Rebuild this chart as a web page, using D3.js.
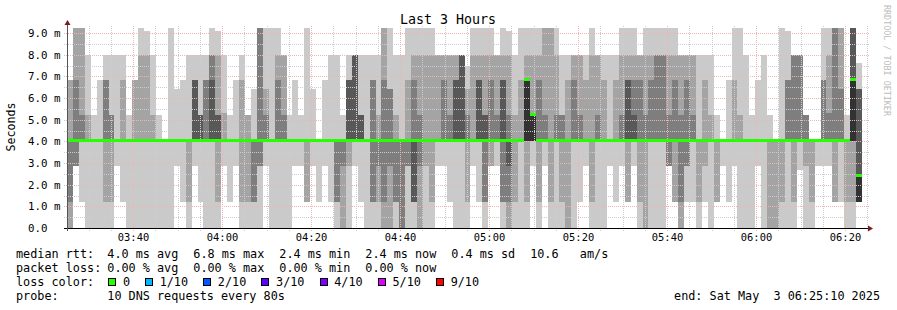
<!DOCTYPE html>
<html>
<head>
<meta charset="UTF-8">
<title>Last 3 Hours</title>
<script src="https://d3js.org/d3.v7.min.js"></script>
<style>
  body { margin: 0; background: #fff; }
  svg text { font-family: "DejaVu Sans Mono", monospace; white-space: pre; }
</style>
</head>
<body>
<svg id="chart" width="897" height="310"></svg>
<script>
// time window of the graph, one sample every 80s
var startTime = new Date(2025, 4, 3, 3, 25, 10);
var endTime = new Date(2025, 4, 3, 6, 25, 10);
var stepSec = 80;

// 10 sorted DNS rtts (ms) per step
var pings = [
  [0,0,1.2,4,4,4,4,4,6.85,6.85],
  [2.85,2.85,2.85,4,4,4,4,6.85,9.24,9.24],
  [1.2,4,4,4,4,4,4,5.2,9.24,9.24],
  [0,4,4,4,4,4,4,4,5.2,8],
  [0,4,4,4,4,4,4,4,4,5.2],
  [0,4,4,4,4,4,4,4,4,6.85],
  [0,1.2,4,4,4,4,4,6.85,6.85,8],
  [0,1.2,4,4,4,4,4,5.2,5.2,8],
  [2.85,4,4,4,4,4,4,4,4,8],
  [1.2,4,4,4,4,4,4,4,6.85,8],
  [0,4,4,4,4,4,4,4,4,5.2],
  [0,4,4,4,4,4,4,4,6.85,6.85],
  [0,4,4,4,4,4,4,4,8,9.24],
  [0,4,4,4,4,4,4,4,8,9.1],
  [0,4,4,4,4,4,4,4,5.2,8],
  [0,4,4,4,4,4,4,4,4,5.2],
  [0,4,4,4,4,4,4,4,4,4],
  [0,4,4,4,4,4,4,4,4,9.24],
  [2.85,4,4,4,4,4,4,4,4,6.4],
  [1.2,4,4,4,4,4,4,4,4,6.85],
  [0,1.2,4,4,4,4,4,4,4,8],
  [2.85,4,4,4,4,4,6.85,6.85,6.85,8],
  [1.2,4,4,4,4,4,5.2,5.2,5.2,8],
  [0,4,4,4,4,4,4,6.85,6.85,8],
  [0,4,4,4,4,4,6.85,8,8,9.24],
  [0,1.2,4,4,4,4,5.2,5.2,8,9.1],
  [2.85,4,4,4,4,4,4,4,5.3,8],
  [1.2,4,4,4,4,4,4,4,4,5.2],
  [2.85,4,4,4,4,4,4,4,4,6.85],
  [0,1.2,4,4,4,4,4,4,6.85,8],
  [0,1.2,4,4,4,4,4,4,5.2,5.2],
  [0,1.2,1.2,4,4,4,4,4,4,6.4],
  [0,2.85,2.85,4,4,4,4,9.24,9.24,9.24],
  [2.85,4,4,4,4,4,4,5.2,6.4,9.24],
  [0,4,4,4,4,4,4,4,4,9.24],
  [0,4,4,4,4,4,4,6.85,8,9.24],
  [0,4,4,4,4,4,4,5.2,8,8],
  [0,4,4,4,4,4,4,4,4,5.2],
  [2.85,4,4,4,4,4,4,4,4,6.85],
  [2.85,4,4,4,4,4,4,4,4,5.2],
  [1.2,1.2,4,4,4,4,4,4,4,9.24],
  [2.85,4,4,4,4,4,4,4,4,6.4],
  [1.2,4,4,4,4,4,4,4,4,4],
  [2.85,4,4,4,4,4,4,4,4,6.85],
  [1.2,4,4,4,4,4,4,4,4,8],
  [0,1.2,1.2,4,4,4,4,4,4,8],
  [0,0,2.85,4,4,4,4,4,4,5.2],
  [0,2.85,4,4,4,4,6.85,6.85,6.85,8],
  [2.85,4,4,4,4,4,8,8,8,8],
  [1.2,4,4,4,4,4,5.2,5.2,5.2,8],
  [0,4,4,4,4,4,4,4,4,8],
  [0,1.2,1.2,4,4,4,4,6.85,6.85,8],
  [0,1.2,2.85,4,4,4,4,4,5.2,8],
  [0,0,1.2,4,4,4,4,6.85,9.24,9.24],
  [0,0,2.85,4,4,4,4,6.4,6.4,9.24],
  [0,1.2,1.2,4,4,4,4,4,5.2,8],
  [0,0,0,4,4,4,4,4,4,8],
  [0,2.85,2.85,4,4,4,4,4,6.85,9.24],
  [0,1.2,1.2,1.2,4,4,4,6.85,8,9.24],
  [0,0,2.85,4,4,4,4,5.2,8,9.24],
  [0,2.85,4,4,4,4,4,4,8,9.24],
  [0,1.2,4,4,4,4,4,4,8,9.24],
  [2.85,4,4,4,4,4,4,4,8,8],
  [2.85,4,4,4,4,4,4,6.85,8,8],
  [1.2,4,4,4,4,4,4,5.2,8,8],
  [0,4,4,4,4,4,6.85,6.85,8,8],
  [0,4,4,4,4,4,8,8,8,8],
  [0,1.2,4,4,4,4,4,5.2,6.4,7.5],
  [2.85,4,4,4,4,4,4,4,8,9.24],
  [1.2,4,4,4,4,4,6.85,6.85,8,9.24],
  [0,1.2,1.2,4,4,4,5.2,5.2,8,9.24],
  [2.85,2.85,4,4,4,4,4,6.85,8,9.24],
  [2.85,4,4,4,4,4,4,5.2,8,8],
  [0,1.2,1.2,4,4,4,6.85,6.85,8,9.24],
  [0,0,1.2,2.85,4,4,4,5.2,8,9.1],
  [0,1.2,4,4,4,4,4,4,5.2,8],
  [0,4,4,4,4,4,4,4,6.85,9.24],
  [0,1.2,4,4,4,6.85,6.85,6.85,8,9.24],
  [2.85,4,4,4,4,5.2,5.2,5.2,8,9.24],
  [0,1.2,4,4,4,4,4,6.85,8,9.24],
  [2.85,4,4,4,4,4,4,5.2,9.24,9.24],
  [0,1.2,4,4,4,4,4,4,9.24,9.24],
  [0,4,4,4,4,4,4,5.2,8,9.24],
  [0,1.2,4,4,4,4,4,5.2,5.2,8],
  [0,0,4,4,4,4,4,4,6.85,8],
  [0,4,4,4,4,4,4,6.85,8,8],
  [1.2,4,4,4,4,4,4,5.2,8,8],
  [2.85,4,4,4,4,4,4,4,6.85,8],
  [0,1.2,4,4,4,4,4,4,8,9.24],
  [0,4,4,4,4,4,4,5.2,8,8],
  [0,4,4,4,4,4,4,4,6.85,8],
  [2.85,4,4,4,4,4,4,4,4,8],
  [1.2,4,4,4,4,4,4,4,6.85,8],
  [2.85,4,4,4,4,4,4,5.2,8,9.24],
  [1.2,1.2,4,4,4,4,6.85,6.85,8,9.24],
  [2.85,4,4,4,4,4,5.2,6.85,8,9.24],
  [0,1.2,4,4,4,4,4,6.85,8,8],
  [0,0,4,4,4,4,4,5.2,8,9.24],
  [0,4,4,4,4,4,4,6.85,8,9.24],
  [0,4,4,4,4,4,4,8,8,9.24],
  [0,4,4,4,4,4,4,8,8,9.24],
  [2.85,2.85,2.85,4,4,4,4,5.2,8,9.24],
  [1.2,1.2,4,4,4,4,4,6.85,8,9.24],
  [0,0,1.2,4,4,4,4,5.2,8,8],
  [1.2,2.85,2.85,4,4,4,4,6.85,8,8],
  [1.2,4,4,4,4,4,4,5.2,8,8],
  [0,1.2,4,4,4,4,4,4,4,8],
  [1.2,2.85,4,4,4,4,4,4,6.85,8],
  [0,4,4,4,4,4,4,4,5.2,8],
  [1.2,1.2,4,4,4,4,4,4,4,5.2],
  [2.85,4,4,4,4,4,4,4,4,4],
  [1.2,4,4,4,4,4,4,4,4,6.85],
  [2.85,4,4,4,4,4,4,4,6.85,9.24],
  [0,4,4,4,4,4,4,4,5.2,9.24],
  [0,4,4,4,4,4,4,4,4,8],
  [0,4,4,4,4,4,4,4,4,5.2],
  [2.85,4,4,4,4,4,4,4,4,6.85],
  [0,4,4,4,4,4,4,4,4,8],
  [0,0,4,4,4,4,4,4,4,5.2],
  [0,0,4,4,4,4,4,4,4,4],
  [0,1.2,4,4,4,4,4,4,4,9.24],
  [0,4,4,4,4,4,4,6.85,6.85,9.1],
  [0,1.2,4,4,4,4,4,8,8,8],
  [2.7,4,4,4,4,4,4,8,8,8],
  [0,2.85,4,4,4,4,4,5.2,5.2,5.2],
  [0,1.2,4,4,4,4,4,4,4,4],
  [2.85,4,4,4,4,4,4,4,4,4],
  [2.85,4,4,4,4,4,4,6.85,6.85,9.24],
  [2.85,4,4,4,4,4,4,5.3,8,9.24],
  [1.2,1.2,4,4,4,4,4,9.24,9.24,9.24],
  [1.2,4,4,4,4,4,4,6.4,9.24,9.24],
  [0,1.2,4,4,4,4,4,4,4,5.2],
  [0,1.2,4,4,4,6.85,9.24,9.24,9.24,9.24],
  [1.2,1.2,1.2,1.2,1.2,2.42,6.4,6.4,6.4,7.6]
];

var shades = ['#cacaca', '#a4a4a4', '#7e7e7e', '#585858', '#323232'];
var yMajor = [0, 1, 2, 3, 4, 5, 6, 7, 8, 9];
var yMinor = [0.5, 1.5, 2.5, 3.5, 4.5, 5.5, 6.5, 7.5, 8.5];

var lossLabels = ['0', '1/10', '2/10', '3/10', '4/10', '5/10', '9/10'];
var lossColors = ['#26ff00', '#00b8ff', '#0059ff', '#5e00ff', '#7e00ff', '#dd00ff', '#ff0000'];
var rttStats = ['4.0 ms avg', '6.8 ms max', '2.4 ms min', '2.4 ms now', '0.4 ms sd', '10.6   am/s'];
var lossStats = ['0.00 % avg', '0.00 % max', '0.00 % min', '0.00 % now'];

var svg = d3.select('#chart');
svg.append('rect').attr('width', 897).attr('height', 310).attr('fill', '#fff');

var x = d3.scaleTime().domain([startTime, endTime]).range([67, 868]);
var y = d3.scaleLinear().domain([0, 9.24]).range([228, 28]);

function colTime(i) { return new Date(startTime.getTime() + i * stepSec * 1000); }

// smoke bands: band k runs from ping k to ping 9-k
var bands = [];
pings.forEach(function(p, i) {
  for (var k = 0; k < 5; k++) {
    if (p[9 - k] > p[k]) bands.push({i: i, k: k, lo: p[k], hi: p[9 - k]});
  }
});

svg.append('g').attr('shape-rendering', 'crispEdges')
  .selectAll('rect').data(bands).enter().append('rect')
  .attr('x', function(d) { return Math.round(x(colTime(d.i))); })
  .attr('width', function(d) { return Math.round(x(colTime(d.i + 1))) - Math.round(x(colTime(d.i))); })
  .attr('y', function(d) { return Math.round(y(d.hi)); })
  .attr('height', function(d) { return Math.round(y(d.lo)) - Math.round(y(d.hi)); })
  .attr('fill', function(d) { return shades[d.k]; });

// grid (dotted, on top of the smoke)
var grid = svg.append('g').attr('shape-rendering', 'crispEdges');
var minorTimes = d3.timeMinute.every(5).range(startTime, endTime);
var majorTimes = d3.timeMinute.every(20).range(startTime, endTime);

grid.selectAll('.ymin').data(yMinor).enter().append('line')
  .attr('x1', 64).attr('x2', 870)
  .attr('y1', function(d) { return Math.round(y(d)) + 0.5; })
  .attr('y2', function(d) { return Math.round(y(d)) + 0.5; })
  .attr('stroke', '#cdcdcd').attr('stroke-dasharray', '1,1');
grid.selectAll('.xmin').data(minorTimes).enter().append('line')
  .attr('x1', function(d) { return Math.round(x(d)) + 0.5; })
  .attr('x2', function(d) { return Math.round(x(d)) + 0.5; })
  .attr('y1', 26).attr('y2', 231)
  .attr('stroke', '#cdcdcd').attr('stroke-dasharray', '1,1');
grid.selectAll('.ymaj').data(yMajor).enter().append('line')
  .attr('x1', 64).attr('x2', 870)
  .attr('y1', function(d) { return Math.round(y(d)) + 0.5; })
  .attr('y2', function(d) { return Math.round(y(d)) + 0.5; })
  .attr('stroke', '#f0b4b4').attr('stroke-dasharray', '1,1');
grid.selectAll('.xmaj').data(majorTimes).enter().append('line')
  .attr('x1', function(d) { return Math.round(x(d)) + 0.5; })
  .attr('x2', function(d) { return Math.round(x(d)) + 0.5; })
  .attr('y1', 26).attr('y2', 231)
  .attr('stroke', '#f0b4b4').attr('stroke-dasharray', '1,1');

// median rtt (6th sorted ping), loss 0 everywhere -> green
svg.append('g').attr('shape-rendering', 'crispEdges')
  .selectAll('rect').data(pings).enter().append('rect')
  .attr('x', function(d, i) { return Math.round(x(colTime(i))); })
  .attr('width', function(d, i) { return Math.round(x(colTime(i + 1))) - Math.round(x(colTime(i))); })
  .attr('y', function(d) { return Math.round(y(d[5])) - 2; })
  .attr('height', 3)
  .attr('fill', lossColors[0]);

// axes
var axes = svg.append('g').attr('shape-rendering', 'crispEdges');
axes.append('line').attr('x1', 64).attr('x2', 869).attr('y1', 228.5).attr('y2', 228.5).attr('stroke', '#000');
axes.append('line').attr('x1', 67.5).attr('x2', 67.5).attr('y1', 231).attr('y2', 24).attr('stroke', '#555');
svg.append('path').attr('d', 'M868,225.5L873,228.5L868,231.5Z').attr('fill', '#7a1c1c');
svg.append('path').attr('d', 'M64.5,25L67.5,20L70.5,25Z').attr('fill', '#7a1c1c');

svg.selectAll('.ylab').data(yMajor).enter().append('text')
  .attr('x', 28).attr('y', function(d) { return y(d) + 4; })
  .attr('font-size', '10.8px').attr('fill', '#000')
  .text(function(d) { return d === 0 ? '0.0' : d3.format('.1f')(d) + ' m'; });

svg.selectAll('.xlab').data(majorTimes).enter().append('text')
  .attr('x', function(d) { return x(d) + 0.5; }).attr('y', 241)
  .attr('text-anchor', 'middle').attr('font-size', '10.4px').attr('fill', '#000')
  .text(d3.timeFormat('%H:%M'));

// titles
svg.append('text').attr('x', 448).attr('y', 24).attr('text-anchor', 'middle')
  .attr('font-size', '13.3px').attr('fill', '#000').text('Last 3 Hours');
svg.append('text').attr('transform', 'translate(15,127) rotate(-90)').attr('text-anchor', 'middle')
  .attr('font-size', '11.6px').attr('fill', '#000').text('Seconds');
svg.append('text').attr('transform', 'translate(884,5) rotate(90)')
  .attr('font-size', '8.4px').attr('fill', '#bdbdbd').text('RRDTOOL / TOBI OETIKER');

// legend
var cw = 7.15, legendX = 107.3, fs = '11.8px';
var leg = svg.append('g').attr('font-size', fs).attr('fill', '#000');
leg.append('text').attr('x', 16).attr('y', 258).text('median rtt:');
leg.append('text').attr('x', 16).attr('y', 272).text('packet loss:');
leg.append('text').attr('x', 16).attr('y', 286).text('loss color:');
leg.append('text').attr('x', 16).attr('y', 300).text('probe:');

var px = legendX;
rttStats.forEach(function(s) {
  leg.append('text').attr('x', px).attr('y', 258).text(s);
  px += s.length * cw + 14.5;
});
px = legendX;
lossStats.forEach(function(s) {
  leg.append('text').attr('x', px).attr('y', 272).text(s);
  px += s.length * cw + 14.5;
});
px = 108.3;
lossLabels.forEach(function(s, i) {
  leg.append('rect').attr('x', Math.round(px) + 0.5).attr('y', 278.5).attr('width', 7).attr('height', 7)
    .attr('fill', lossColors[i]).attr('stroke', '#000').attr('shape-rendering', 'crispEdges');
  leg.append('text').attr('x', px + 14.6).attr('y', 286).text(s);
  px += 14.6 + s.length * cw + 15;
});
leg.append('text').attr('x', legendX).attr('y', 300).text('10 DNS requests every 80s');
leg.append('text').attr('x', 880).attr('y', 300).attr('text-anchor', 'end')
  .text('end: Sat May  3 06:25:10 2025');
</script>
</body>
</html>
